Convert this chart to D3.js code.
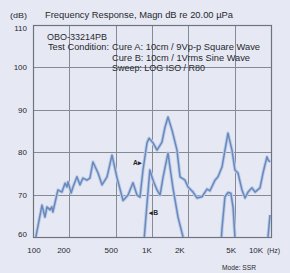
<!DOCTYPE html>
<html><head><meta charset="utf-8">
<script src="https://cdn.jsdelivr.net/npm/d3@7"></script>
<style>
html,body{margin:0;padding:0;background:#e6e9f3;}
svg{display:block;font-family:"Liberation Sans",Arial,sans-serif;}
</style></head>
<body><svg id="c" width="290" height="273"></svg>
<script>
// ---- data ----
const yTicks = [60, 70, 80, 90, 100, 110];
const xTicks = [100, 200, 500, 1000, 2000, 5000, 10000];
const xTickLabels = ["100", "200", "500", "1K", "2K", "5K", "10K"];
const curveAFreq = [104,119,126,131,139,144,147,162,175,186,193,197,209,217,234,248,263,284,301,319,352,380,419,461,508,571,629,692,748,793,840,908,944,1020,1102,1213,1286,1363,1473,1622,1719,1893,2008,2212,2389,2632,2899,3071,3383,3585,3874,4104,4351,4699,4977,5278,5702,6050,6412,6918,7338,8083,8568,9250,9440,9810];
const curveADb   = [59,67.5,64.7,67.1,66.4,67.1,65.9,71.1,70.6,72.7,71.8,73.0,70.4,71.8,74.2,72.3,73.9,73.4,73.9,77.7,75.1,72.3,74.2,79.3,74.0,68.6,69.9,72.8,69.9,69.4,75.8,82.2,83.3,82.2,80.5,82.4,85.9,88.3,85.2,80.5,74.2,73.4,71.8,70.6,69.2,69.5,71.3,70.9,73.4,74.2,76.5,80.5,84.5,80.5,75.8,75.1,71.1,69.2,70.6,71.6,70.6,71.6,75.1,78.9,78.2,77.7];
const curveBFreq = [820,873,959,1020,1102,1169,1240,1363,1501,1654,1823,1900,2600,3750,3874,4104,4351,4600,4800,4977,5150,7000,9300,9440,9810];
const curveBDb   = [52,62,75.8,73.4,71.1,69.9,74.2,79.8,71.5,64.7,60,57,48,56,62,69.5,70.5,70.3,67,60,55,48,57,60,65.2];
const titleText = "Frequency Response, Magn dB re 20.00 \u00b5Pa";
const infoLines = ["OBO-33214PB", "Test Condition:", "Cure A: 10cm / 9Vp-p Square Wave", "Cure B: 10cm / 1Vrms Sine Wave", "Sweep: LOG ISO / R80"];

// ---- chart ----
const svg = d3.select("#c");
const L = 33, R = 271, T = 25, B = 237;
const x = d3.scaleLog().domain([100, 10000]).range([L, R]);
const y = d3.scaleLinear().domain([60, 110]).range([B, T]);
const ink = "#26282e";

svg.append("rect").attr("width",290).attr("height",273).attr("fill","#e6e9f3");

const grid = svg.append("g").attr("stroke","#858a96").attr("stroke-width",1).attr("shape-rendering","crispEdges");
yTicks.forEach(v => grid.append("line").attr("x1",L).attr("x2",R).attr("y1",Math.round(y(v))+0.5).attr("y2",Math.round(y(v))+0.5));
xTicks.forEach(v => grid.append("line").attr("x1",Math.round(x(v))+0.5).attr("x2",Math.round(x(v))+0.5).attr("y1",T).attr("y2",B));
svg.append("rect").attr("x",L+0.5).attr("y",T+0.5).attr("width",R-L).attr("height",B-T)
  .attr("fill","none").attr("stroke","#6e7380").attr("stroke-width",1.2);

function txt(g, s, px, py, size, len, anchor) {
  const t = g.append("text").attr("x",px).attr("y",py).attr("font-size",size).attr("fill",ink).text(s);
  if (anchor) t.attr("text-anchor",anchor);
  if (len) t.attr("textLength",len).attr("lengthAdjust","spacingAndGlyphs");
  return t;
}

// y labels
svg.append("g").selectAll("text").data(yTicks).join("text")
  .attr("x",27).attr("y",d => y(d) + (d===110?6:d===60?0:3))
  .attr("text-anchor","end").attr("font-size",8).attr("fill",ink).text(d=>d);

// x labels
const dxOff = {100:1,200:-5,500:-5,1000:-5,2000:-8,5000:-4,10000:-15};
svg.append("g").selectAll("text").data(xTicks).join("text")
  .attr("x",d => x(d) + dxOff[d]).attr("y",253)
  .attr("text-anchor","middle").attr("font-size",8).attr("fill",ink)
  .text((d,i)=>xTickLabels[i]);
txt(svg, "(Hz)", 267, 253, 8, 13);
txt(svg, "Mode: SSR", 222, 270, 8, 34);

// title
txt(svg, "(dB)", 10, 18, 8, 17);
txt(svg, titleText, 45, 18, 8.5, 188);

// info block
const info = svg.append("g");
txt(info, infoLines[0], 47, 40, 8.5, 60);
txt(info, infoLines[1], 48, 50, 8.5, 61);
txt(info, infoLines[2], 112, 50, 8.5, 148);
txt(info, infoLines[3], 112, 61, 8.5, 138);
txt(info, infoLines[4], 112, 71, 8.5, 93);

// curves
svg.append("clipPath").attr("id","clip").append("rect").attr("x",L).attr("y",T).attr("width",R-L).attr("height",B-T);
const line = d3.line().x(d=>x(d[0])).y(d=>y(d[1])).curve(d3.curveLinear);
const A = curveAFreq.map((f,i)=>[f,curveADb[i]]);
const Bd = curveBFreq.map((f,i)=>[f,curveBDb[i]]);
const cg = svg.append("g").attr("clip-path","url(#clip)").attr("fill","none").attr("stroke-linejoin","round");
[A,Bd].forEach(data => {
  cg.append("path").attr("d",line(data)).attr("stroke","#bccde9").attr("stroke-width",3.4);
  cg.append("path").attr("d",line(data)).attr("stroke","#6a88bb").attr("stroke-width",1.5);
});

// markers
txt(svg, "A\u25B8", 133, 165, 6.5, 9).attr("font-weight","bold");
txt(svg, "\u25C2B", 149, 215, 6.5, 9).attr("font-weight","bold");
</script></body></html>
